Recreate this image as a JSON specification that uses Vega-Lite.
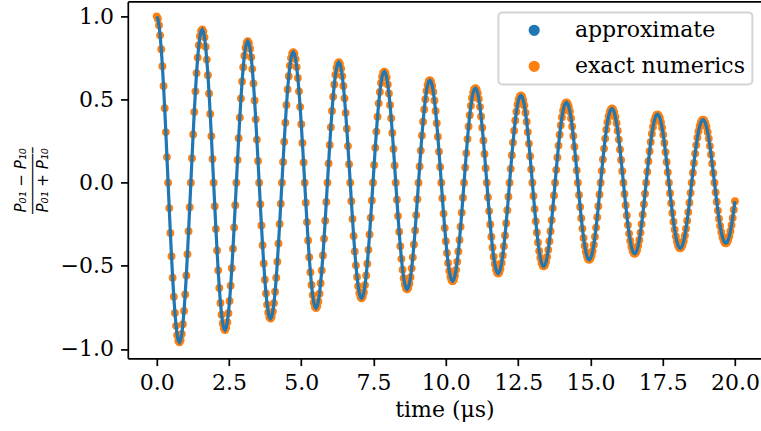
{
"$schema":"https://vega.github.io/schema/vega-lite/v6.json",
"width":633.2,"height":356.9,
"autosize":{"type":"none"},
"padding":{"left":127.8,"top":1.4,"right":0,"bottom":72.7},
"background":"white",
"data":{"values":[
{"t":0,"y":1},{"t":0.039,"y":0.986},{"t":0.079,"y":0.947},{"t":0.118,"y":0.886},{"t":0.157,"y":0.803},{"t":0.197,"y":0.7},{"t":0.236,"y":0.581},{"t":0.276,"y":0.448},{"t":0.315,"y":0.304},{"t":0.354,"y":0.154},{"t":0.394,"y":0},{"t":0.433,"y":-0.153},{"t":0.472,"y":-0.302},{"t":0.512,"y":-0.442},{"t":0.551,"y":-0.571},{"t":0.591,"y":-0.686},{"t":0.63,"y":-0.783},{"t":0.669,"y":-0.861},{"t":0.709,"y":-0.917},{"t":0.748,"y":-0.951},{"t":0.787,"y":-0.96},{"t":0.827,"y":-0.947},{"t":0.866,"y":-0.91},{"t":0.905,"y":-0.851},{"t":0.945,"y":-0.771},{"t":0.984,"y":-0.672},{"t":1.024,"y":-0.558},{"t":1.063,"y":-0.43},{"t":1.102,"y":-0.292},{"t":1.142,"y":-0.148},{"t":1.181,"y":0},{"t":1.22,"y":0.147},{"t":1.26,"y":0.29},{"t":1.299,"y":0.425},{"t":1.339,"y":0.549},{"t":1.378,"y":0.659},{"t":1.417,"y":0.752},{"t":1.457,"y":0.827},{"t":1.496,"y":0.881},{"t":1.535,"y":0.913},
{"t":1.575,"y":0.922},{"t":1.614,"y":0.909},{"t":1.653,"y":0.874},{"t":1.693,"y":0.817},{"t":1.732,"y":0.74},{"t":1.772,"y":0.646},{"t":1.811,"y":0.536},{"t":1.85,"y":0.413},{"t":1.89,"y":0.28},{"t":1.929,"y":0.142},{"t":1.968,"y":0},{"t":2.008,"y":-0.141},{"t":2.047,"y":-0.278},{"t":2.087,"y":-0.408},{"t":2.126,"y":-0.527},{"t":2.165,"y":-0.633},{"t":2.205,"y":-0.723},{"t":2.244,"y":-0.794},{"t":2.283,"y":-0.846},{"t":2.323,"y":-0.877},{"t":2.362,"y":-0.886},{"t":2.401,"y":-0.873},{"t":2.441,"y":-0.839},{"t":2.48,"y":-0.785},{"t":2.52,"y":-0.711},{"t":2.559,"y":-0.62},{"t":2.598,"y":-0.514},{"t":2.638,"y":-0.397},{"t":2.677,"y":-0.269},{"t":2.716,"y":-0.136},{"t":2.756,"y":0},{"t":2.795,"y":0.136},{"t":2.835,"y":0.267},{"t":2.874,"y":0.392},{"t":2.913,"y":0.506},{"t":2.953,"y":0.608},{"t":2.992,"y":0.694},{"t":3.031,"y":0.763},{"t":3.071,"y":0.812},{"t":3.11,"y":0.842},
{"t":3.149,"y":0.851},{"t":3.189,"y":0.839},{"t":3.228,"y":0.806},{"t":3.268,"y":0.754},{"t":3.307,"y":0.683},{"t":3.346,"y":0.596},{"t":3.386,"y":0.494},{"t":3.425,"y":0.381},{"t":3.464,"y":0.259},{"t":3.504,"y":0.131},{"t":3.543,"y":0},{"t":3.583,"y":-0.13},{"t":3.622,"y":-0.257},{"t":3.661,"y":-0.376},{"t":3.701,"y":-0.486},{"t":3.74,"y":-0.584},{"t":3.779,"y":-0.666},{"t":3.819,"y":-0.733},{"t":3.858,"y":-0.78},{"t":3.897,"y":-0.809},{"t":3.937,"y":-0.817},{"t":3.976,"y":-0.805},{"t":4.016,"y":-0.774},{"t":4.055,"y":-0.724},{"t":4.094,"y":-0.656},{"t":4.134,"y":-0.572},{"t":4.173,"y":-0.475},{"t":4.212,"y":-0.366},{"t":4.252,"y":-0.248},{"t":4.291,"y":-0.126},{"t":4.331,"y":0},{"t":4.37,"y":0.125},{"t":4.409,"y":0.246},{"t":4.449,"y":0.361},{"t":4.488,"y":0.467},{"t":4.527,"y":0.561},{"t":4.567,"y":0.64},{"t":4.606,"y":0.704},{"t":4.645,"y":0.749},{"t":4.685,"y":0.777},
{"t":4.724,"y":0.785},{"t":4.764,"y":0.774},{"t":4.803,"y":0.743},{"t":4.842,"y":0.695},{"t":4.882,"y":0.63},{"t":4.921,"y":0.549},{"t":4.96,"y":0.456},{"t":5,"y":0.351},{"t":5.039,"y":0.239},{"t":5.079,"y":0.121},{"t":5.118,"y":0},{"t":5.157,"y":-0.12},{"t":5.197,"y":-0.237},{"t":5.236,"y":-0.347},{"t":5.275,"y":-0.448},{"t":5.315,"y":-0.538},{"t":5.354,"y":-0.615},{"t":5.393,"y":-0.676},{"t":5.433,"y":-0.72},{"t":5.472,"y":-0.746},{"t":5.512,"y":-0.754},{"t":5.551,"y":-0.743},{"t":5.59,"y":-0.714},{"t":5.63,"y":-0.668},{"t":5.669,"y":-0.605},{"t":5.708,"y":-0.528},{"t":5.748,"y":-0.438},{"t":5.787,"y":-0.337},{"t":5.827,"y":-0.229},{"t":5.866,"y":-0.116},{"t":5.905,"y":0},{"t":5.945,"y":0.115},{"t":5.984,"y":0.227},{"t":6.023,"y":0.333},{"t":6.063,"y":0.431},{"t":6.102,"y":0.517},{"t":6.141,"y":0.59},{"t":6.181,"y":0.649},{"t":6.22,"y":0.691},{"t":6.26,"y":0.716},
{"t":6.299,"y":0.724},{"t":6.338,"y":0.714},{"t":6.378,"y":0.686},{"t":6.417,"y":0.641},{"t":6.456,"y":0.581},{"t":6.496,"y":0.507},{"t":6.535,"y":0.42},{"t":6.575,"y":0.324},{"t":6.614,"y":0.22},{"t":6.653,"y":0.111},{"t":6.693,"y":0},{"t":6.732,"y":-0.111},{"t":6.771,"y":-0.218},{"t":6.811,"y":-0.32},{"t":6.85,"y":-0.414},{"t":6.889,"y":-0.497},{"t":6.929,"y":-0.567},{"t":6.968,"y":-0.623},{"t":7.008,"y":-0.664},{"t":7.047,"y":-0.688},{"t":7.086,"y":-0.695},{"t":7.126,"y":-0.685},{"t":7.165,"y":-0.659},{"t":7.204,"y":-0.616},{"t":7.244,"y":-0.558},{"t":7.283,"y":-0.487},{"t":7.323,"y":-0.404},{"t":7.362,"y":-0.311},{"t":7.401,"y":-0.211},{"t":7.441,"y":-0.107},{"t":7.48,"y":0},{"t":7.519,"y":0.106},{"t":7.559,"y":0.21},{"t":7.598,"y":0.307},{"t":7.637,"y":0.397},{"t":7.677,"y":0.477},{"t":7.716,"y":0.545},{"t":7.756,"y":0.599},{"t":7.795,"y":0.638},{"t":7.834,"y":0.661},
{"t":7.874,"y":0.668},{"t":7.913,"y":0.658},{"t":7.952,"y":0.633},{"t":7.992,"y":0.591},{"t":8.031,"y":0.536},{"t":8.071,"y":0.467},{"t":8.11,"y":0.388},{"t":8.149,"y":0.299},{"t":8.189,"y":0.203},{"t":8.228,"y":0.103},{"t":8.267,"y":0},{"t":8.307,"y":-0.102},{"t":8.346,"y":-0.201},{"t":8.385,"y":-0.295},{"t":8.425,"y":-0.382},{"t":8.464,"y":-0.458},{"t":8.504,"y":-0.523},{"t":8.543,"y":-0.575},{"t":8.582,"y":-0.612},{"t":8.622,"y":-0.635},{"t":8.661,"y":-0.641},{"t":8.7,"y":-0.632},{"t":8.74,"y":-0.608},{"t":8.779,"y":-0.568},{"t":8.819,"y":-0.515},{"t":8.858,"y":-0.449},{"t":8.897,"y":-0.372},{"t":8.937,"y":-0.287},{"t":8.976,"y":-0.195},{"t":9.015,"y":-0.099},{"t":9.055,"y":0},{"t":9.094,"y":0.098},{"t":9.133,"y":0.193},{"t":9.173,"y":0.284},{"t":9.212,"y":0.366},{"t":9.252,"y":0.44},{"t":9.291,"y":0.502},{"t":9.33,"y":0.552},{"t":9.37,"y":0.588},{"t":9.409,"y":0.61},
{"t":9.448,"y":0.616},{"t":9.488,"y":0.607},{"t":9.527,"y":0.583},{"t":9.567,"y":0.546},{"t":9.606,"y":0.494},{"t":9.645,"y":0.431},{"t":9.685,"y":0.358},{"t":9.724,"y":0.276},{"t":9.763,"y":0.187},{"t":9.803,"y":0.095},{"t":9.842,"y":0},{"t":9.881,"y":-0.094},{"t":9.921,"y":-0.186},{"t":9.96,"y":-0.272},{"t":10,"y":-0.352},{"t":10.039,"y":-0.423},{"t":10.078,"y":-0.483},{"t":10.118,"y":-0.53},{"t":10.157,"y":-0.565},{"t":10.196,"y":-0.586},{"t":10.236,"y":-0.592},{"t":10.275,"y":-0.583},{"t":10.315,"y":-0.56},{"t":10.354,"y":-0.524},{"t":10.393,"y":-0.475},{"t":10.433,"y":-0.414},{"t":10.472,"y":-0.344},{"t":10.511,"y":-0.265},{"t":10.551,"y":-0.18},{"t":10.59,"y":-0.091},{"t":10.629,"y":0},{"t":10.669,"y":0.091},{"t":10.708,"y":0.178},{"t":10.748,"y":0.262},{"t":10.787,"y":0.338},{"t":10.826,"y":0.406},{"t":10.866,"y":0.463},{"t":10.905,"y":0.509},{"t":10.944,"y":0.543},{"t":10.984,"y":0.562},
{"t":11.023,"y":0.568},{"t":11.063,"y":0.56},{"t":11.102,"y":0.538},{"t":11.141,"y":0.503},{"t":11.181,"y":0.456},{"t":11.22,"y":0.398},{"t":11.259,"y":0.33},{"t":11.299,"y":0.254},{"t":11.338,"y":0.173},{"t":11.377,"y":0.087},{"t":11.417,"y":0},{"t":11.456,"y":-0.087},{"t":11.496,"y":-0.171},{"t":11.535,"y":-0.251},{"t":11.574,"y":-0.325},{"t":11.614,"y":-0.39},{"t":11.653,"y":-0.445},{"t":11.692,"y":-0.489},{"t":11.732,"y":-0.521},{"t":11.771,"y":-0.54},{"t":11.811,"y":-0.546},{"t":11.85,"y":-0.538},{"t":11.889,"y":-0.517},{"t":11.929,"y":-0.483},{"t":11.968,"y":-0.438},{"t":12.007,"y":-0.382},{"t":12.047,"y":-0.317},{"t":12.086,"y":-0.244},{"t":12.125,"y":-0.166},{"t":12.165,"y":-0.084},{"t":12.204,"y":0},{"t":12.244,"y":0.083},{"t":12.283,"y":0.165},{"t":12.322,"y":0.241},{"t":12.362,"y":0.312},{"t":12.401,"y":0.374},{"t":12.44,"y":0.427},{"t":12.48,"y":0.47},{"t":12.519,"y":0.5},{"t":12.559,"y":0.519},
{"t":12.598,"y":0.524},{"t":12.637,"y":0.517},{"t":12.677,"y":0.496},{"t":12.716,"y":0.464},{"t":12.755,"y":0.421},{"t":12.795,"y":0.367},{"t":12.834,"y":0.304},{"t":12.873,"y":0.235},{"t":12.913,"y":0.159},{"t":12.952,"y":0.081},{"t":12.992,"y":0},{"t":13.031,"y":-0.08},{"t":13.07,"y":-0.158},{"t":13.11,"y":-0.232},{"t":13.149,"y":-0.299},{"t":13.188,"y":-0.36},{"t":13.228,"y":-0.411},{"t":13.267,"y":-0.451},{"t":13.307,"y":-0.481},{"t":13.346,"y":-0.498},{"t":13.385,"y":-0.503},{"t":13.425,"y":-0.496},{"t":13.464,"y":-0.477},{"t":13.503,"y":-0.446},{"t":13.543,"y":-0.404},{"t":13.582,"y":-0.352},{"t":13.621,"y":-0.292},{"t":13.661,"y":-0.225},{"t":13.7,"y":-0.153},{"t":13.74,"y":-0.077},{"t":13.779,"y":0},{"t":13.818,"y":0.077},{"t":13.858,"y":0.152},{"t":13.897,"y":0.223},{"t":13.936,"y":0.288},{"t":13.976,"y":0.345},{"t":14.015,"y":0.394},{"t":14.055,"y":0.433},{"t":14.094,"y":0.462},{"t":14.133,"y":0.478},
{"t":14.173,"y":0.483},{"t":14.212,"y":0.477},{"t":14.251,"y":0.458},{"t":14.291,"y":0.428},{"t":14.33,"y":0.388},{"t":14.369,"y":0.338},{"t":14.409,"y":0.281},{"t":14.448,"y":0.216},{"t":14.488,"y":0.147},{"t":14.527,"y":0.074},{"t":14.566,"y":0},{"t":14.606,"y":-0.074},{"t":14.645,"y":-0.146},{"t":14.684,"y":-0.214},{"t":14.724,"y":-0.276},{"t":14.763,"y":-0.332},{"t":14.803,"y":-0.379},{"t":14.842,"y":-0.416},{"t":14.881,"y":-0.443},{"t":14.921,"y":-0.46},{"t":14.96,"y":-0.464},{"t":14.999,"y":-0.458},{"t":15.039,"y":-0.44},{"t":15.078,"y":-0.411},{"t":15.117,"y":-0.373},{"t":15.157,"y":-0.325},{"t":15.196,"y":-0.27},{"t":15.236,"y":-0.208},{"t":15.275,"y":-0.141},{"t":15.314,"y":-0.071},{"t":15.354,"y":0},{"t":15.393,"y":0.071},{"t":15.432,"y":0.14},{"t":15.472,"y":0.205},{"t":15.511,"y":0.265},{"t":15.551,"y":0.319},{"t":15.59,"y":0.364},{"t":15.629,"y":0.4},{"t":15.669,"y":0.426},{"t":15.708,"y":0.441},
{"t":15.747,"y":0.446},{"t":15.787,"y":0.44},{"t":15.826,"y":0.422},{"t":15.865,"y":0.395},{"t":15.905,"y":0.358},{"t":15.944,"y":0.312},{"t":15.984,"y":0.259},{"t":16.023,"y":0.2},{"t":16.062,"y":0.136},{"t":16.102,"y":0.069},{"t":16.141,"y":0},{"t":16.18,"y":-0.068},{"t":16.22,"y":-0.135},{"t":16.259,"y":-0.197},{"t":16.299,"y":-0.255},{"t":16.338,"y":-0.306},{"t":16.377,"y":-0.349},{"t":16.417,"y":-0.384},{"t":16.456,"y":-0.409},{"t":16.495,"y":-0.424},{"t":16.535,"y":-0.428},{"t":16.574,"y":-0.422},{"t":16.613,"y":-0.406},{"t":16.653,"y":-0.379},{"t":16.692,"y":-0.344},{"t":16.732,"y":-0.3},{"t":16.771,"y":-0.249},{"t":16.81,"y":-0.192},{"t":16.85,"y":-0.13},{"t":16.889,"y":-0.066},{"t":16.928,"y":0},{"t":16.968,"y":0.066},{"t":17.007,"y":0.129},{"t":17.047,"y":0.189},{"t":17.086,"y":0.245},{"t":17.125,"y":0.294},{"t":17.165,"y":0.335},{"t":17.204,"y":0.369},{"t":17.243,"y":0.393},{"t":17.283,"y":0.407},
{"t":17.322,"y":0.411},{"t":17.361,"y":0.405},{"t":17.401,"y":0.39},{"t":17.44,"y":0.364},{"t":17.48,"y":0.33},{"t":17.519,"y":0.288},{"t":17.558,"y":0.239},{"t":17.598,"y":0.184},{"t":17.637,"y":0.125},{"t":17.676,"y":0.063},{"t":17.716,"y":0},{"t":17.755,"y":-0.063},{"t":17.795,"y":-0.124},{"t":17.834,"y":-0.182},{"t":17.873,"y":-0.235},{"t":17.913,"y":-0.282},{"t":17.952,"y":-0.322},{"t":17.991,"y":-0.354},{"t":18.031,"y":-0.377},{"t":18.07,"y":-0.391},{"t":18.109,"y":-0.395},{"t":18.149,"y":-0.389},{"t":18.188,"y":-0.374},{"t":18.228,"y":-0.35},{"t":18.267,"y":-0.317},{"t":18.306,"y":-0.277},{"t":18.346,"y":-0.229},{"t":18.385,"y":-0.177},{"t":18.424,"y":-0.12},{"t":18.464,"y":-0.061},{"t":18.503,"y":0},{"t":18.543,"y":0.06},{"t":18.582,"y":0.119},{"t":18.621,"y":0.175},{"t":18.661,"y":0.226},{"t":18.7,"y":0.271},{"t":18.739,"y":0.309},{"t":18.779,"y":0.34},{"t":18.818,"y":0.362},{"t":18.857,"y":0.376},
{"t":18.897,"y":0.379},{"t":18.936,"y":0.374},{"t":18.976,"y":0.359},{"t":19.015,"y":0.336},{"t":19.054,"y":0.305},{"t":19.094,"y":0.266},{"t":19.133,"y":0.22},{"t":19.172,"y":0.17},{"t":19.212,"y":0.115},{"t":19.251,"y":0.058},{"t":19.291,"y":0},{"t":19.33,"y":-0.058},{"t":19.369,"y":-0.114},{"t":19.409,"y":-0.168},{"t":19.448,"y":-0.217},{"t":19.487,"y":-0.26},{"t":19.527,"y":-0.297},{"t":19.566,"y":-0.327},{"t":19.605,"y":-0.348},{"t":19.645,"y":-0.361},{"t":19.684,"y":-0.364},{"t":19.724,"y":-0.359},{"t":19.763,"y":-0.345},{"t":19.802,"y":-0.323},{"t":19.842,"y":-0.292},{"t":19.881,"y":-0.255},{"t":19.92,"y":-0.212},{"t":19.96,"y":-0.163},{"t":19.999,"y":-0.111}
]},
"layer":[
 {"mark":{"type":"point","filled":true,"size":62,"opacity":1,"strokeWidth":0},
  "encoding":{
   "x":{"field":"t","type":"quantitative","scale":{"domain":[-1,20.9],"nice":false,"zero":false},
        "axis":{"orient":"bottom","values":[0,2.5,5,7.5,10,12.5,15,17.5,20],"format":".1f","title":"time (μs)","titlePadding":6}},
   "y":{"field":"y","type":"quantitative","scale":{"domain":[-1.056,1.09],"nice":false,"zero":false},
       "axis":{"orient":"left","values":[-1,-0.5,0,0.5,1],"format":".1f","title":["P₀₁ − P₁₀","――――–","P₀₁ + P₁₀"],"titleFont":"DejaVu Sans","titleFontSize":15,"titleFontStyle":"italic","titleLineHeight":11,"titlePadding":10}},
   "color":{"datum":"exact numerics","type":"nominal",
     "scale":{"domain":["approximate","exact numerics"],"range":["#1f77b4","#ff7f0e"]},
     "legend":{"title":null,"orient":"none","legendX":370.6,"legendY":11,"padding":6.9,"cornerRadius":4,
       "fillColor":"rgba(255,255,255,0.8)","strokeColor":"#d4d4d4",
       "labelFont":"DejaVu Serif","labelFontSize":22,"labelColor":"black","labelLimit":400,
       "labelOffset":29.7,"symbolOffset":17.9,"symbolSize":64,"symbolType":"circle","symbolStrokeWidth":3.2,"rowPadding":14,
       "encode":{"symbols":{
         "shape":{"condition":{"test":"datum.value === 'approximate'","value":"M-6,0H6"},"value":"circle"},
         "fill":{"condition":{"test":"datum.value === 'approximate'","value":"transparent"},"value":"#ff7f0e"},
         "stroke":{"condition":{"test":"datum.value === 'approximate'","value":"#1f77b4"},"value":"transparent"},
         "strokeWidth":{"value":3.2},"size":{"value":64},"opacity":{"value":1}}}}}
  }},
 {"mark":{"type":"line","strokeWidth":3.2},
  "encoding":{
   "x":{"field":"t","type":"quantitative","axis":{"orient":"top","labels":false,"ticks":false,"title":null,"domain":true}},
   "y":{"field":"y","type":"quantitative","axis":null},
   "color":{"datum":"approximate","type":"nominal"}
  }}
],
"resolve":{"axis":{"x":"independent","y":"independent"}},
"config":{
  "view":{"stroke":null},
  "legend":{"strokeWidth":2},
  "axis":{"grid":false,"domainColor":"black","domainWidth":1.7,"tickColor":"black","tickWidth":1.7,"tickSize":7.3,
    "labelFont":"DejaVu Serif","labelFontSize":22,"labelColor":"black","labelPadding":7,"labelFlush":false,"labelOverlap":false,
    "titleFont":"DejaVu Serif","titleFontSize":22,"titleFontWeight":"normal","titleColor":"black"}
}
}
